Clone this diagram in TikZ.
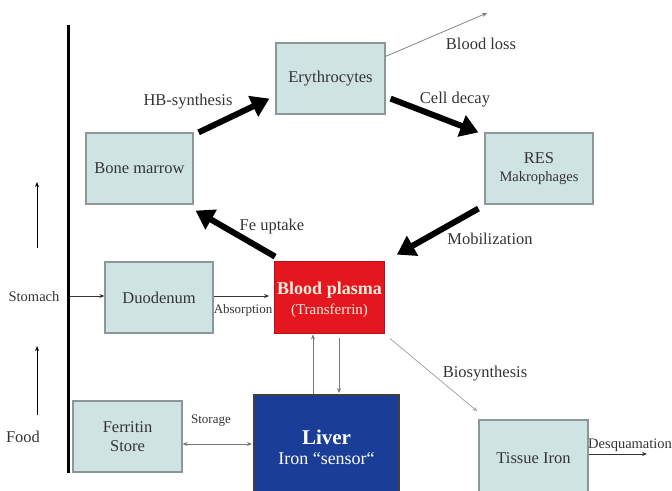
\documentclass[tikz,border=0pt]{standalone}
\usepackage{fontspec}
\setmainfont{Liberation Serif}
\usetikzlibrary{arrows.meta,calc}
\definecolor{boxfill}{RGB}{206,227,226}
\definecolor{boxedge}{RGB}{140,152,152}
\definecolor{inktext}{RGB}{52,52,52}
\definecolor{plasmared}{RGB}{228,22,32}
\definecolor{liverblue}{RGB}{26,62,152}
\definecolor{cream}{RGB}{255,238,220}
\definecolor{thingray}{RGB}{120,120,120}
\newcommand{\txt}[1]{\fontsize{#1}{#1}\selectfont}
\begin{document}
\begin{tikzpicture}[x=1pt,y=-1pt,
  box/.style={draw=boxedge,line width=1.2pt,fill=boxfill,text=inktext,
    align=center,inner sep=0pt,font=\txt{16.5}},
  lbl/.style={text=inktext,font=\txt{16.5},inner sep=0pt},
  small/.style={text=inktext,font=\txt{13},inner sep=0pt},
  bigarrow/.style={line width=6pt,-{Triangle[length=18pt,width=22pt]}},
  thinarrow/.style={draw=thingray,line width=0.7pt,-{Stealth[length=5pt,width=4pt]}},
  thinboth/.style={draw=thingray,line width=1pt,{Stealth[length=5pt,width=4pt]}-{Stealth[length=5pt,width=4pt]}}]
\useasboundingbox (0,0) rectangle (672,490);

% main axis on the left
\draw[line width=3pt] (68,25) -- (68,473);

% compartments
\node[box,minimum width=109pt,minimum height=71pt] (ery) at (330.5,78.5) {Erythrocytes};
\node[box,minimum width=107pt,minimum height=71pt] (bm) at (139.5,168.5) {Bone marrow};
\node[box,minimum width=108pt,minimum height=71pt] (res) at (539,168.5)
  {RES\\[2pt]{\txt{14.5}Makrophages}};
\node[box,minimum width=108pt,minimum height=71pt] (duo) at (159,297.5) {Duodenum};
\node[draw=plasmared!80!black,line width=0.8pt,fill=plasmared,
  minimum width=110pt,minimum height=72pt,inner sep=0pt] (plasma) at (329.5,297) {};
\node[text=cream,align=center,inner sep=0pt] (plasmatxt) at (329.5,300)
  {{\txt{18}\bfseries Blood plasma}\\[5pt]{\txt{15}(Transferrin)}};
\node[draw=black!75,line width=2pt,fill=liverblue,
  minimum width=145pt,minimum height=105pt,inner sep=0pt] (liver) at (326.5,447.5) {};
\node[text=white,align=center,inner sep=0pt] (livertxt) at (326.5,447)
  {{\txt{21}\bfseries Liver}\\[7pt]{\txt{18}Iron “sensor“}};
\node[box,minimum width=109pt,minimum height=71pt] (fer) at (127.5,436.5)
  {Ferritin\\[2pt]Store};
\node[box,minimum width=109pt,minimum height=76pt] (tis) at (533.5,458) {Tissue Iron};

% side labels
\node[lbl,font=\txt{14.5}] (stomach) at (34,297) {Stomach};
\node[lbl] (food) at (23,437) {Food};
\coordinate (up1a) at (37,248);
\coordinate (up1b) at (37,182);
\coordinate (up2a) at (37,415);
\coordinate (up2b) at (37,346);
\draw[line width=1pt,-{Stealth[length=5pt,width=4pt]}] (up1a) -- (up1b);
\draw[line width=1pt,-{Stealth[length=5pt,width=4pt]}] (up2a) -- (up2b);

% iron cycle
\draw[bigarrow] ($(bm.north east)+(5,0)$) -- ($(ery.south west)+(-6,-16)$);
\draw[bigarrow] ($(ery.south east)+(5,-16)$) -- ($(res.north west)+(-6,0)$);
\draw[bigarrow] ($(res.south west)+(-6,4)$) -- ($(plasma.north east)+(12,-6)$);
\draw[bigarrow] ($(plasma.north west)+(1,-4)$) -- ($(bm.south east)+(2,6)$);
\node[lbl] (hb) at (188,102) {HB-synthesis};
\node[lbl] (decay) at (455,100) {Cell decay};
\node[lbl] (mob) at (490,239) {Mobilization};
\node[lbl] (fe) at (272,227) {Fe uptake};

% losses and uptake
\coordinate (lossend) at (487,13);
\draw[thinarrow] ($(ery.north east)+(0,14)$) -- (lossend);
\node[lbl] (loss) at (481,44) {Blood loss};

\coordinate (stomsrc) at (70,296);
\draw[thinarrow,draw=inktext] (stomsrc) -- (duo.west |- stomsrc);
\draw[thinarrow,draw=inktext] ($(duo.east)+(0,-1.5)$) -- ($(plasma.west)+(-5,-1)$);
\node[small] (absorb) at (243,310) {Absorption};

% liver exchange
\draw[thinarrow] ($(liver.north)+(-13.5,0)$) -- ($(plasma.south)+(-16.5,1)$);
\draw[thinarrow] ($(plasma.south)+(9.5,5)$) -- ($(liver.north)+(12.5,-1)$);

\coordinate (sy) at (0,444);
\draw[thinboth] (fer.east |- sy) -- ($(liver.west |- sy)+(-1,0)$);
\node[small] (storage) at (211,421) {Storage};

% tissue iron
\draw[draw=black!35,line width=0.8pt,-{Stealth[length=5pt,width=4pt]}]
  ($(plasma.south east)+(5,5)$) -- ($(tis.north west)+(-1,-8)$);
\node[lbl] (bio) at (485,374) {Biosynthesis};
\coordinate (desqend) at (647,454);
\draw[thinarrow,draw=inktext] (tis.east |- desqend) -- (desqend);
\node[lbl,font=\txt{14.5},anchor=west] (desq) at (588,445) {Desquamation};
\end{tikzpicture}
\end{document}
